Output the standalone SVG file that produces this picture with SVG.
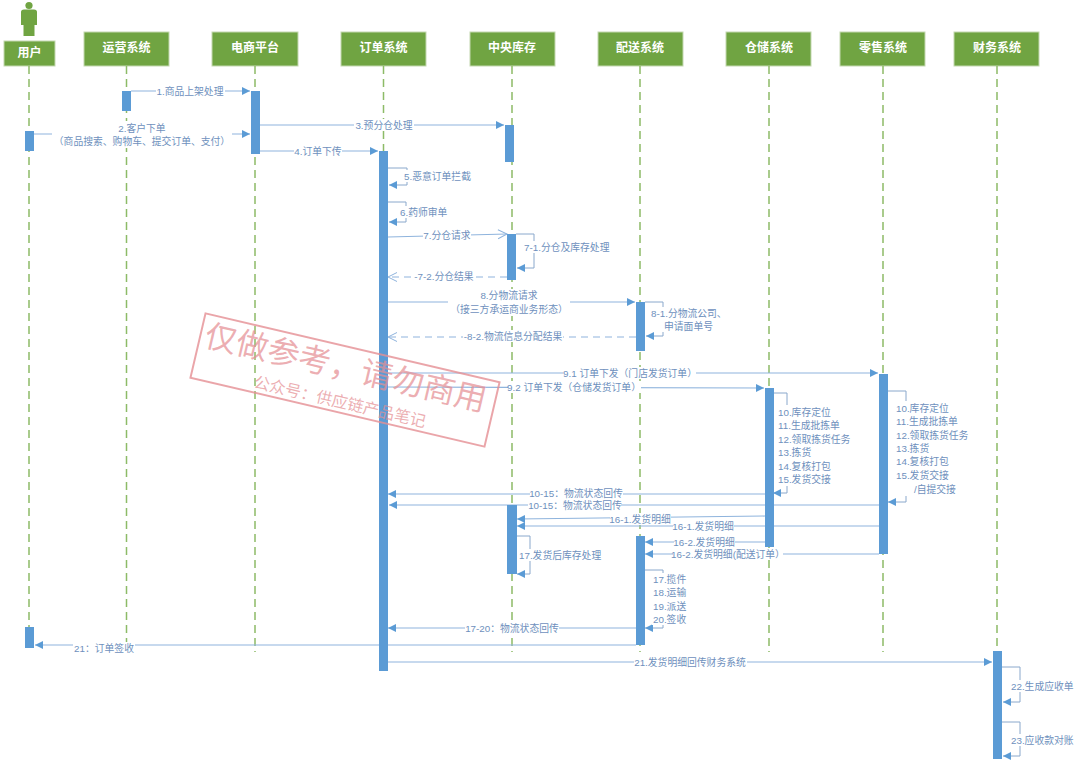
<svg xmlns="http://www.w3.org/2000/svg" width="1080" height="761" viewBox="0 0 1080 761">
<style>
text{font-family:"Liberation Sans","Noto Sans CJK SC",sans-serif}
.box{fill:#70a442;stroke:#c3d8b0;stroke-width:1}
.h{fill:#fff;font-size:12px;font-weight:700;text-anchor:middle;dominant-baseline:central}
.life{stroke:#8dbb67;stroke-width:1.5;stroke-dasharray:8 5;fill:none}
.bar{fill:#5b9bd5}
.m{stroke:#8fb4dd;stroke-width:1.2;fill:none;marker-end:url(#f)}
.o{stroke:#8fb4dd;stroke-width:1.2;fill:none;marker-end:url(#o)}
.d{stroke:#8fb4dd;stroke-width:1.2;fill:none;stroke-dasharray:7 5;marker-end:url(#o)}
.s{stroke:#8aa8cc;stroke-width:1;fill:none;marker-end:url(#f)}
.bg{fill:#fff}
.l{fill:#6e90bd;font-size:9.8px;dominant-baseline:central}
.c{text-anchor:middle}
.wm{fill:#e58f94;fill-opacity:.72}
</style>
<defs>
<marker id="f" markerUnits="userSpaceOnUse" markerWidth="10" markerHeight="10" refX="8" refY="5" orient="auto"><path d="M0 1 L8 5 L0 9Z" fill="#5b9bd5"/></marker>
<marker id="o" markerUnits="userSpaceOnUse" markerWidth="12" markerHeight="12" refX="10" refY="6" orient="auto"><path d="M1 1.5 L10 6 L1 10.5" fill="none" stroke="#8fb4dd" stroke-width="1"/></marker>
</defs>

<g id="node-user">
<circle cx="29" cy="5.5" r="3.6" fill="#70a442"/>
<path d="M21 12 Q21 9.500 24 9.500 H34 Q37 9.500 37 12 V25 H34.500 V36 H23.500 V25 H21Z" fill="#70a442"/>
<rect class="box" x="4" y="41" width="51" height="25"/>
<text class="h" x="29.500" y="53">用户</text>
<line class="life" x1="29" y1="66" x2="29" y2="630"/>
</g>
<g id="node-ops"><rect class="box" x="84" y="32" width="85" height="34"/><text class="h" x="126.500" y="48">运营系统</text><line class="life" x1="126.500" y1="66" x2="126.500" y2="652"/></g>
<g id="node-ecom"><rect class="box" x="212" y="32" width="86" height="34"/><text class="h" x="255" y="48">电商平台</text><line class="life" x1="255" y1="66" x2="255" y2="652"/></g>
<g id="node-order"><rect class="box" x="341" y="32" width="85" height="34"/><text class="h" x="383.500" y="48">订单系统</text><line class="life" x1="383.500" y1="66" x2="383.500" y2="152"/></g>
<g id="node-inventory"><rect class="box" x="470" y="32" width="85" height="34"/><text class="h" x="512" y="48">中央库存</text><line class="life" x1="512" y1="66" x2="512" y2="652"/></g>
<g id="node-delivery"><rect class="box" x="598" y="32" width="85" height="34"/><text class="h" x="640" y="48">配送系统</text><line class="life" x1="640" y1="66" x2="640" y2="652"/></g>
<g id="node-wms"><rect class="box" x="726" y="32" width="85" height="34"/><text class="h" x="769" y="48">仓储系统</text><line class="life" x1="769" y1="66" x2="769" y2="652"/></g>
<g id="node-retail"><rect class="box" x="840" y="32" width="85" height="34"/><text class="h" x="883" y="48">零售系统</text><line class="life" x1="883" y1="66" x2="883" y2="652"/></g>
<g id="node-finance"><rect class="box" x="954" y="32" width="85" height="34"/><text class="h" x="997" y="48">财务系统</text><line class="life" x1="997" y1="66" x2="997" y2="652"/></g>

<g id="connectors">
<path class="m" d="M131 91H250"/>
<path class="m" d="M34 134H250"/>
<path class="m" d="M260 125H504"/>
<path class="m" d="M260 151H378"/>
<path class="s" d="M388 168H407V185H389"/>
<path class="s" d="M388 202H406V222H389"/>
<path class="o" d="M388 237L507 234"/>
<path class="s" d="M516 234H534V268H517"/>
<path class="d" d="M507 277H388"/>
<path class="m" d="M388 302H635"/>
<path class="s" d="M645 302H663V336H646"/>
<path class="d" d="M636 337H388"/>
<path class="m" d="M388 373H878"/>
<path class="m" d="M388 387L764 388"/>
<path class="s" d="M774 393H787V493H773"/>
<path class="s" d="M887 391H906V502H888"/>
<path class="m" d="M765 494H388"/>
<path class="m" d="M879 505H389"/>
<path class="m" d="M765 516L517 519"/>
<path class="m" d="M879 526H517"/>
<path class="m" d="M765 542H645"/>
<path class="m" d="M879 554H645"/>
<path class="s" d="M517 536H530V574H517"/>
<path class="s" d="M645 570H663V628H645"/>
<path class="m" d="M636 628H388"/>
<path class="m" d="M636 645H35"/>
<path class="m" d="M388 662H992"/>
<path class="s" d="M1002 667H1020V702H1003"/>
<path class="s" d="M1002 722H1020V756H1003"/>

<rect class="bg" x="156" y="85" width="69" height="12"/><text class="l c" x="190" y="91">1.商品上架处理</text>
<rect class="bg" x="52" y="121" width="180" height="27"/><text class="l c" x="142" y="128">2.客户下单</text><text class="l c" x="142" y="141">（商品搜索、购物车、提交订单、支付）</text>
<rect class="bg" x="354" y="119" width="60" height="12"/><text class="l c" x="384" y="125">3.预分仓处理</text>
<rect class="bg" x="294" y="145" width="48" height="12"/><text class="l c" x="318" y="151">4.订单下传</text>
<rect class="bg" x="402" y="170" width="70" height="12"/><text class="l" x="404" y="176">5.恶意订单拦截</text>
<rect class="bg" x="399" y="206" width="52" height="12"/><text class="l" x="400" y="212">6.药师审单</text>
<rect class="bg" x="423" y="229" width="48" height="12"/><text class="l c" x="447" y="235">7.分仓请求</text>
<rect class="bg" x="523" y="241" width="90" height="12"/><text class="l" x="524" y="247">7-1.分仓及库存处理</text>
<rect class="bg" x="414" y="270" width="60" height="12"/><text class="l c" x="444" y="276">-7-2.分仓结果</text>
<rect class="bg" x="448" y="289" width="122" height="27"/><text class="l c" x="509" y="295">8.分物流请求</text><text class="l c" x="509" y="309">（接三方承运商业务形态）</text>
<rect class="bg" x="650" y="307" width="74" height="25"/><text class="l" x="651" y="313">8-1.分物流公司、</text><text class="l" x="664" y="326">申请面单号</text>
<rect class="bg" x="463" y="330" width="100" height="12"/><text class="l c" x="513" y="336">-8-2.物流信息分配结果</text>
<rect class="bg" x="563" y="367" width="133" height="12"/><text class="l c" x="630" y="373">9.1 订单下发（门店发货订单）</text>
<rect class="bg" x="508" y="381" width="133" height="12"/><text class="l c" x="574" y="387">9.2 订单下发（仓储发货订单）</text>
<rect class="bg" x="777" y="405" width="76" height="81"/><text class="l" x="778" y="412">10.库存定位</text><text class="l" x="778" y="425">11.生成批拣单</text><text class="l" x="778" y="439">12.领取拣货任务</text><text class="l" x="778" y="452">13.拣货</text><text class="l" x="778" y="466">14.复核打包</text><text class="l" x="778" y="479">15.发货交接</text>
<rect class="bg" x="895" y="401" width="76" height="95"/><text class="l" x="896" y="408">10.库存定位</text><text class="l" x="896" y="421">11.生成批拣单</text><text class="l" x="896" y="435">12.领取拣货任务</text><text class="l" x="896" y="448">13.拣货</text><text class="l" x="896" y="461">14.复核打包</text><text class="l" x="896" y="475">15.发货交接</text><text class="l" x="914" y="489">/自提交接</text>
<rect class="bg" x="530" y="488" width="93" height="11"/><text class="l c" x="576" y="493.500">10-15：物流状态回传</text>
<rect class="bg" x="528" y="499.500" width="93" height="12"/><text class="l c" x="575" y="505.500">10-15：物流状态回传</text>
<rect class="bg" x="610" y="513" width="61" height="12"/><text class="l c" x="640" y="519">16-1.发货明细</text>
<rect class="bg" x="673" y="520" width="61" height="12"/><text class="l c" x="703" y="526">16-1.发货明细</text>
<rect class="bg" x="674" y="536" width="61" height="12"/><text class="l c" x="704" y="542">16-2.发货明细</text>
<rect class="bg" x="673" y="548" width="110" height="12"/><text class="l c" x="728" y="554">16-2.发货明细(配送订单）</text>
<rect class="bg" x="518" y="549" width="84" height="12"/><text class="l" x="519" y="555">17.发货后库存处理</text>
<rect class="bg" x="652" y="573" width="34" height="52"/><text class="l" x="653" y="579">17.揽件</text><text class="l" x="653" y="592">18.运输</text><text class="l" x="653" y="606">19.派送</text><text class="l" x="653" y="619">20.签收</text>
<rect class="bg" x="465" y="622" width="94" height="12"/><text class="l c" x="512" y="628">17-20：物流状态回传</text>
<rect class="bg" x="73" y="642" width="62" height="12"/><text class="l c" x="104" y="648">21：订单签收</text>
<rect class="bg" x="634" y="656" width="113" height="12"/><text class="l c" x="690" y="662">21.发货明细回传财务系统</text>
<rect class="bg" x="1010" y="680" width="66" height="12"/><text class="l" x="1011" y="686">22.生成应收单</text>
<rect class="bg" x="1010" y="734" width="66" height="12"/><text class="l" x="1011" y="740">23.应收款对账</text>
</g>

<g id="activations">
<rect class="bar" x="122" y="91" width="9" height="20"/>
<rect class="bar" x="25" y="131" width="9" height="20"/>
<rect class="bar" x="25" y="627" width="9" height="21"/>
<rect class="bar" x="251" y="91" width="9" height="63"/>
<rect class="bar" x="379" y="151" width="9" height="520"/>
<rect class="bar" x="505" y="125" width="9" height="37"/>
<rect class="bar" x="507" y="234" width="9" height="46"/>
<rect class="bar" x="507" y="505" width="10" height="69"/>
<rect class="bar" x="636" y="302" width="9" height="49"/>
<rect class="bar" x="636" y="536" width="9" height="109"/>
<rect class="bar" x="765" y="388" width="9" height="159"/>
<rect class="bar" x="879" y="374" width="9" height="180"/>
<rect class="bar" x="993" y="651" width="9" height="108"/>
</g>

<g id="watermark" transform="translate(345 380) rotate(13.200)">
<rect x="-151" y="-33" width="302" height="66" fill="none" stroke="#e58f94" stroke-opacity=".8" stroke-width="2"/>
<text class="wm" x="-146" y="-1" font-size="32">仅做参考，请勿商用</text>
<text class="wm" x="-88" y="28" font-size="16" fill-opacity=".65">公众号：供应链产品笔记</text>
</g>
</svg>
